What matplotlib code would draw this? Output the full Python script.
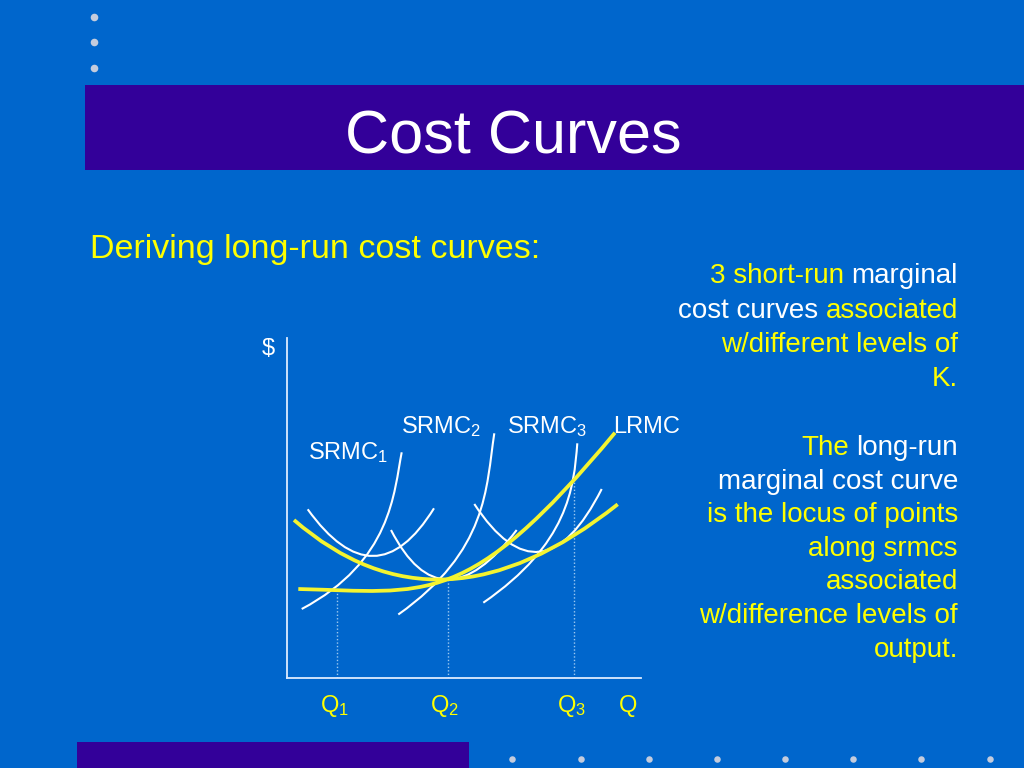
import matplotlib
matplotlib.use('Agg')
import matplotlib.pyplot as plt
from matplotlib.path import Path
from matplotlib.patches import PathPatch, Rectangle

plt.rcParams['font.family'] = ['Liberation Sans', 'DejaVu Sans']
plt.rcParams['mathtext.fontset'] = 'custom'
plt.rcParams['mathtext.rm'] = 'Liberation Sans'
plt.rcParams['mathtext.it'] = 'Liberation Sans:italic'

BG = '#0066CC'
BAR = '#330099'
YEL = '#FFFF00'
CURVE_Y = '#F4F430'
WHITE = '#FFFFFF'
DOT = '#C4CCDD'

# short/long-run average cost curves, quadratic Bezier (start, control, end) in chart units
srac1 = [(20.7, 168.7), (88.2, 74.8), (147.0, 169.7)]
srac2 = [(104.0, 148.0), (154.6, 49.0), (229.7, 148.0)]
srac3 = [(187.3, 174.0), (255.0, 71.0), (314.7, 189.0)]
lrac = [(7.0, 158.0), (152.5, 31.5), (330.7, 173.7)]
# marginal cost curves, cubic Bezier
srmc1 = [(14.7, 69.0), (104.7, 116.7), (106.9, 185.7), (114.7, 225.7)]
srmc2 = [(111.3, 63.5), (201.3, 127.4), (198.9, 189.7), (207.3, 244.7)]
srmc3 = [(196.3, 75.3), (281.3, 134.0), (286.8, 189.7), (290.3, 234.7)]
lrmc = [(11.3, 89.0), (140.0, 86.0), (180.0, 67.7), (328.0, 245.3)]

# output levels and where the dotted guides stop
q_levels = [50.3, 160.7, 287.3]
q_cost = [88.0, 98.7, 196.3]
q_labels = ['Q$_1$', 'Q$_2$', 'Q$_3$']

curve_labels = ['SRMC$_1$', 'SRMC$_2$', 'SRMC$_3$', 'LRMC']
curve_label_pos = [(21.0, 218.7), (113.7, 244.7), (219.7, 244.7), (326.3, 244.7)]

note1 = [
    [('3 short-run', YEL), ('marginal', WHITE)],
    [('cost curves', WHITE), ('associated', YEL)],
    [('w/different levels of', YEL)],
    [('K.', YEL)],
]
note2 = [
    [('The', YEL), ('long-run', WHITE)],
    [('marginal cost curve', WHITE)],
    [('is the locus of points', YEL)],
    [('along srmcs', YEL)],
    [('associated', YEL)],
    [('w/difference levels of', YEL)],
    [('output.', YEL)],
]

fig = plt.figure(figsize=(10.24, 7.68), dpi=100, facecolor=BG)

# slide background layer in pixel units
bg = fig.add_axes([0, 0, 1, 1])
bg.set_xlim(0, 1024)
bg.set_ylim(768, 0)
bg.axis('off')
bg.add_patch(Rectangle((85, 85), 939, 85, color=BAR, lw=0))
bg.add_patch(Rectangle((77, 742), 392, 26, color=BAR, lw=0))
bg.scatter([94, 94, 94], [17, 42, 68], s=30, color=DOT, lw=0)
bg.scatter([512, 581, 649, 717, 785, 853, 921, 990], [759] * 8, s=22, color=DOT, lw=0)

bg.text(513, 154, 'Cost Curves', color=WHITE, fontsize=44, ha='center', va='baseline')
bg.text(90, 258, 'Deriving long-run cost curves:', color=YEL, fontsize=24.5, va='baseline')

r = fig.canvas.get_renderer()
t_a = bg.text(0, 0, 'a a', fontsize=20)
t_b = bg.text(0, 0, 'aa', fontsize=20)
space = t_a.get_window_extent(r).width - t_b.get_window_extent(r).width
t_a.remove()
t_b.remove()


def right_lines(x, y0, lines, step):
    for i, parts in enumerate(lines):
        xr = x
        y = y0 + i * step
        for txt, col in reversed(parts):
            t = bg.text(xr, y, txt, color=col, fontsize=20, ha='right', va='baseline')
            xr -= t.get_window_extent(r).width + space


right_lines(958, 283, note1, 34.5)
right_lines(958, 455, note2, 33.6)

# chart
ax = fig.add_axes([287 / 1024, 90 / 768, 354 / 1024, 340 / 768])
ax.set_xlim(0, 354)
ax.set_ylim(0, 340)
ax.set_facecolor('none')
for s in ['top', 'right']:
    ax.spines[s].set_visible(False)
for s in ['left', 'bottom']:
    ax.spines[s].set_color('#DDEBFF')
    ax.spines[s].set_linewidth(1.3)
ax.set_xticks([])
ax.set_yticks([])


def bezier(pts, color, lw, z):
    if len(pts) == 3:
        codes = [Path.MOVETO, Path.CURVE3, Path.CURVE3]
    else:
        codes = [Path.MOVETO, Path.CURVE4, Path.CURVE4, Path.CURVE4]
    ax.add_patch(PathPatch(Path(pts, codes), fill=False, edgecolor=color,
                           lw=lw, capstyle='butt', zorder=z))


for c in [srac1, srac2, srac3, srmc1, srmc2, srmc3]:
    bezier(c, WHITE, 1.5, 3)
for c in [lrac, lrmc]:
    bezier(c, CURVE_Y, 2.7, 4)

for q, c in zip(q_levels, q_cost):
    ax.plot([q, q], [0, c], color='#9CC8F0', lw=1.0, ls=(0, (1, 1.5)), zorder=2)

for q, lab in zip(q_levels, q_labels):
    ax.text(q - 3, -34, lab, color=YEL, fontsize=17, ha='center', va='baseline', clip_on=False)
ax.text(341, -34, 'Q', color=YEL, fontsize=17, ha='center', va='baseline', clip_on=False)
ax.text(-19, 323, '$', color=WHITE, fontsize=17, ha='center', va='baseline', clip_on=False)

for lab, (x, y) in zip(curve_labels, curve_label_pos):
    ax.text(x, y, lab, color=WHITE, fontsize=17, va='baseline', clip_on=False)

fig.savefig('out.png', dpi=100, facecolor=BG)
